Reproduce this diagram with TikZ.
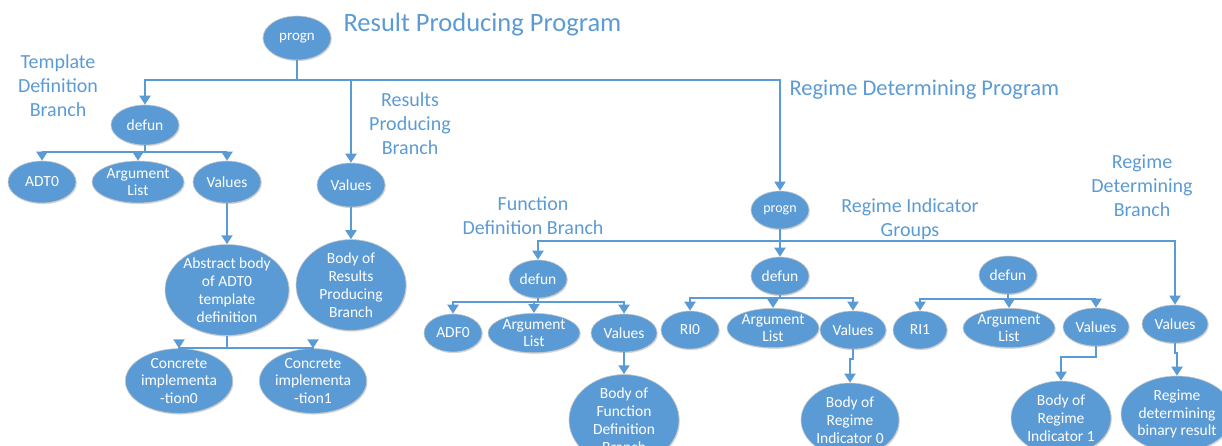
\documentclass[tikz,border=0pt]{standalone}
\usepackage{fontspec}
\setmainfont{Carlito}
\usetikzlibrary{shapes.geometric, arrows.meta, shadows}
\definecolor{officeblue}{HTML}{5B9BD5}

\begin{document}
\begin{tikzpicture}[
        x=1pt, y=-1pt,
        term/.style={ellipse, fill=officeblue, draw=black!22, line width=0.6pt,
            text=white, inner sep=0pt, align=center,
            font=\fontsize{15.5}{17.8}\selectfont,
            drop shadow={shadow xshift=0.8pt, shadow yshift=-1.2pt, opacity=0.25, fill=black!60}},
        sz/.style 2 args={minimum width=#1pt, minimum height=#2pt},
        link/.style={draw=officeblue, line width=2pt, -{Triangle[width=11pt,length=9pt]}},
        note/.style={text=officeblue, align=center, font=\fontsize{20}{24}\selectfont}
    ]
        \useasboundingbox (0,0) rectangle (1222,446);

        % Result producing program
        \node[term, sz={68}{44}, font=\fontsize{15}{17}\selectfont] (top) at (297,38) {progn};
        \node[note, anchor=west, font=\fontsize{26.5}{30}\selectfont] (ttlA) at (340,25) {Result Producing Program};

        % Template definition branch
        \node[note] (lblT) at (58,86) {Template\\Definition\\Branch};
        \node[term, sz={68}{40}] (defT) at (145,125) {defun};
        \node[term, sz={68}{42}] (adt) at (42,182) {ADT0};
        \node[term, sz={92}{42}] (argT) at (138,182) {Argument\\List};
        \node[term, sz={68}{42}] (valT) at (227,182) {Values};
        \node[term, sz={124}{80}] (absT) at (227,290) {Abstract body\\of ADT0\\template\\definition};
        \node[term, sz={100}{58}] (conc0) at (179,381) {Concrete\\implementa\\-tion0};
        \node[term, sz={100}{58}] (conc1) at (313,381) {Concrete\\implementa\\-tion1};

        % Results producing branch
        \node[note] (lblR) at (410,124) {Results\\Producing\\Branch};
        \node[term, sz={68}{44}] (valR) at (351,185) {Values};
        \node[term, sz={110}{72}] (bodyR) at (351,285) {Body of\\Results\\Producing\\Branch};

        % Regime determining program
        \node[note, anchor=west, font=\fontsize{22.5}{26}\selectfont] (ttlB) at (786,90) {Regime Determining Program};
        \node[term, sz={58}{38}, font=\fontsize{14}{16}\selectfont] (sub) at (780,210) {progn};
        \node[note] (lblF) at (533,216) {Function\\Definition Branch};
        \node[note] (lblG) at (910,219) {Regime Indicator\\Groups};
        \node[note] (lblD) at (1142,186) {Regime\\Determining\\Branch};

        % Function definition branch
        \node[term, sz={58}{38}] (defF) at (538,279) {defun};
        \node[term, sz={58}{38}] (adf) at (453,333) {ADF0};
        \node[term, sz={92}{38}] (argF) at (534,333) {Argument\\List};
        \node[term, sz={66}{38}] (valF) at (624,333) {Values};
        \node[term, sz={110}{78}] (bodyF) at (624,420) {Body of\\Function\\Definition\\Branch};

        % Regime indicator 0
        \node[term, sz={58}{38}] (defA) at (780,276) {defun};
        \node[term, sz={58}{38}] (ri0) at (690,330) {RI0};
        \node[term, sz={92}{38}] (argA) at (773,328) {Argument\\List};
        \node[term, sz={66}{38}] (valA) at (853,330) {Values};
        \node[term, sz={98}{74}] (bodyA) at (850,420) {Body of\\Regime\\Indicator 0};

        % Regime indicator 1
        \node[term, sz={58}{38}] (defB) at (1008,275) {defun};
        \node[term, sz={54}{38}] (ri1) at (920,330) {RI1};
        \node[term, sz={92}{38}] (argB) at (1009,328) {Argument\\List};
        \node[term, sz={66}{38}] (valB) at (1096,327) {Values};
        \node[term, sz={100}{74}] (bodyB) at (1061,418) {Body of\\Regime\\Indicator 1};

        % Regime determining branch
        \node[term, sz={66}{38}] (valD) at (1175,324) {Values};
        \node[term, sz={112}{76}] (bodyD) at (1177,414) {Regime\\determining\\binary result};

        % Connectors
        \draw[link] (top.south) -- ++(0,20) -| (defT.north);
        \draw[link] (top.south) -- ++(0,20) -| (valR.north);
        \draw[link] (top.south) -- ++(0,20) -| (sub.north);

        \draw[link] (defT.south) -- ++(0,7) -| (adt.north);
        \draw[link] (defT.south) -- ++(0,7) -| (argT.north);
        \draw[link] (defT.south) -- ++(0,7) -| (valT.north);
        \draw[link] (valT) -- (absT);
        \draw[link] (absT.south) -- ++(0,12) -| (conc0.north);
        \draw[link] (absT.south) -- ++(0,12) -| (conc1.north);
        \draw[link] (valR) -- (bodyR);

        \draw[link] (sub.south) -- ++(0,12) -| (defF.north);
        \draw[link] (sub.south) -- ++(0,12) -| (defA.north);
        \draw[link] (sub.south) -- ++(0,12) -| (valD.north);

        \draw[link] (defF.south) -- ++(0,4) -| (adf.north);
        \draw[link] (defF.south) -- ++(0,4) -| (argF.north);
        \draw[link] (defF.south) -- ++(0,4) -| (valF.north);
        \draw[link] (valF) -- (bodyF);

        \draw[link] (defA.south) -- ++(0,3) -| (ri0.north);
        \draw[link] (defA.south) -- ++(0,3) -| (argA.north);
        \draw[link] (defA.south) -- ++(0,3) -| (valA.north);
        \draw[link] (valA.south) -- ++(0,10) -| (bodyA.north);

        \draw[link] (defB.south) -- ++(0,5) -| (ri1.north);
        \draw[link] (defB.south) -- ++(0,5) -| (argB.north);
        \draw[link] (defB.south) -- ++(0,5) -| (valB.north);
        \draw[link] (valB.south) -- ++(0,11) -| (bodyB.north);

        \draw[link] (valD.south) -- ++(0,10) -| (bodyD.north);
    \end{tikzpicture}
\end{document}
